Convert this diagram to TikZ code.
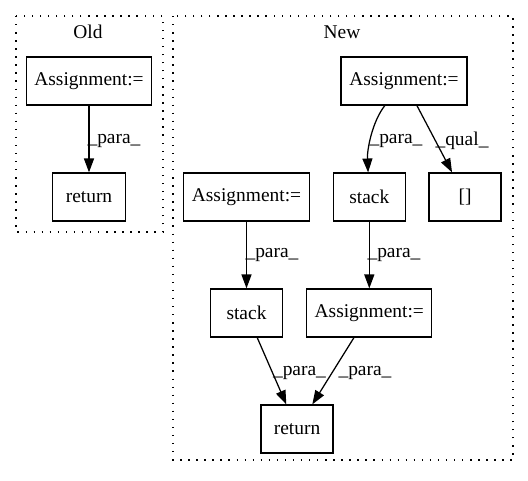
\documentclass[tikz,border=0pt]{standalone}
\usepackage{fontspec}
\setmainfont{Liberation Serif}
\usetikzlibrary{arrows.meta}
\newdimen\pxu \pxu=0.72pt
\begin{document}
\begin{tikzpicture}[x=0.72pt,y=-0.72pt,
  font=\fontsize{14}{16}\selectfont,
  box/.style={draw,line width=0.9pt,inner sep=0pt,minimum height=48\pxu},
  wide/.style={box,minimum width=125\pxu},
  narrow/.style={box,minimum width=72\pxu},
  edge/.style={draw,line width=0.9pt,-{Triangle[length=10pt,width=7.2pt]}},
  lab/.style={inner sep=0pt},
  cluster/.style={draw,line width=0.9pt,dash pattern=on 1pt off 4.8pt}]
\useasboundingbox (0,0) rectangle (528,480);
% clusters
\draw[cluster] (16,16) rectangle (163,232);
\node[lab] (oldt) at (88,32) {Old};
\draw[cluster] (173,16) rectangle (513,460);
\node[lab] (newt) at (342,32) {New};
% Old nodes
\node[wide] (oa) at (89,81) {Assignment:=};
\node[narrow,minimum width=73\pxu] (or) at (89,197) {return};
\draw[edge] (oa) -- (or);
\node[lab] (ol) at (114,141) {\_para\_};
% New nodes
\node[wide,minimum width=126\pxu] (ta) at (404,81) {Assignment:=};
\node[narrow] (sm) at (369.3,197) {stack};
\node[narrow] (br) at (465,197) {[]};
\node[wide,minimum width=126\pxu] (la) at (246.5,197) {Assignment:=};
\node[narrow] (ls) at (246.5,313) {stack};
\node[wide] (lo) at (369.3,313) {Assignment:=};
\node[narrow] (rt) at (297,429) {return};
% edges
\draw[edge] (ta) .. controls (372,122) and (367,150) .. (sm);
\node[lab] (l1) at (396,141) {\_para\_};
\draw[edge] (ta) -- (br);
\node[lab] (l2) at (462,141) {\_qual\_};
\draw[edge] (la) -- (ls);
\node[lab] (l3) at (272,255) {\_para\_};
\draw[edge] (sm) -- (lo);
\node[lab] (l4) at (394,255) {\_para\_};
\draw[edge] (ls) -- (rt);
\node[lab] (l5) at (299.5,373) {\_para\_};
\draw[edge] (lo) -- (rt);
\node[lab] (l6) at (365,373) {\_para\_};
\end{tikzpicture}
\end{document}
